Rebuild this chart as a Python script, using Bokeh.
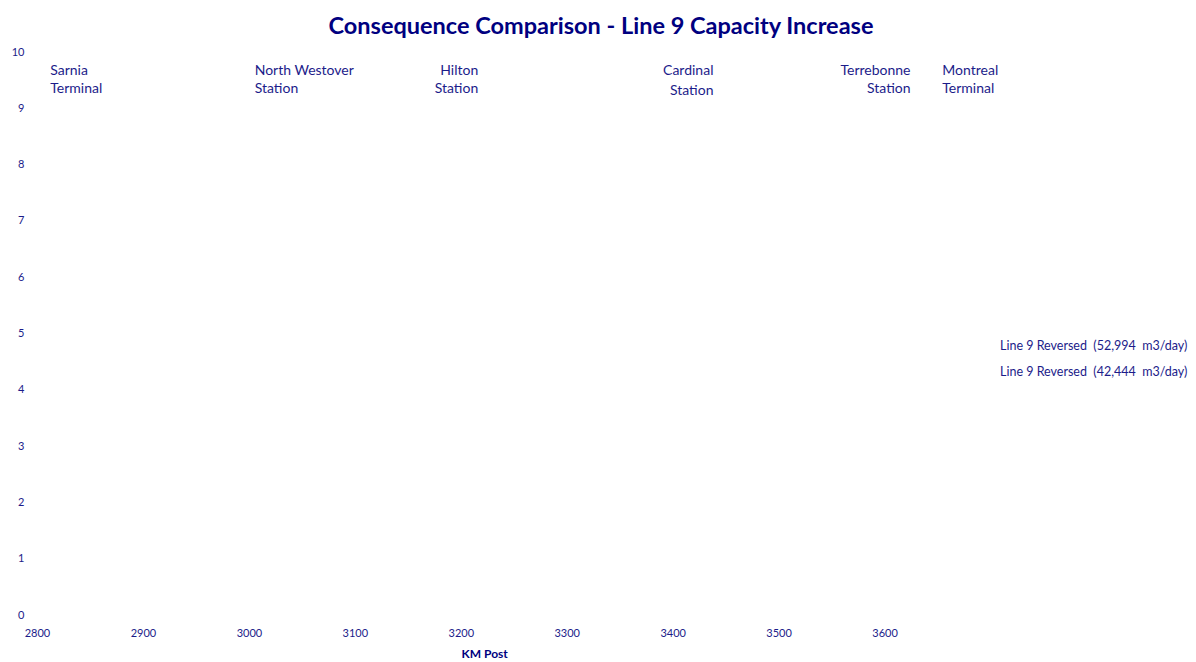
from bokeh.plotting import figure
from bokeh.models import (Label, Legend, LegendItem, FixedTicker, Range1d, Title)
from bokeh.embed import file_html
from bokeh.resources import INLINE

# ---- data ----
series_names = ["Line 9 Reversed  (52,994  m3/day)",
                "Line 9 Reversed  (42,444  m3/day)"]
series_km = [[], []]
series_values = [[], []]

station_line1 = ["Sarnia", "North Westover", "Hilton", "Cardinal", "Terrebonne", "Montreal"]
station_line2 = ["Terminal", "Station", "Station", "Station", "Station", "Terminal"]
station_km = [2812, 3005, 3216, 3438, 3624, 3654]
station_align = ["left", "left", "right", "right", "right", "left"]

x_ticks = [2800, 2900, 3000, 3100, 3200, 3300, 3400, 3500, 3600]
y_ticks = [0, 1, 2, 3, 4, 5, 6, 7, 8, 9, 10]

NAVY = "#000080"
TXT = "#1c1c8a"
FONT = "Lato"

p = figure(frame_width=962, frame_height=563, output_backend="svg", toolbar_location=None,
           x_range=Range1d(2800, 3708), y_range=Range1d(0, 10),
           min_border_left=37, min_border_right=181, min_border_top=43,
           min_border_bottom=48)
p.outline_line_color = None
p.background_fill_color = "white"
p.border_fill_color = "white"
p.grid.visible = False

p.title = Title(text="Consequence Comparison - Line 9 Capacity Increase",
                text_font=FONT, text_font_size="23.5px", text_font_style="bold",
                text_color=NAVY, align="left", offset=291, vertical_align="top",
                standoff=21)

for ax in (p.xaxis[0], p.yaxis[0]):
    ax.axis_line_color = None
    ax.major_tick_line_color = None
    ax.minor_tick_line_color = None
    ax.major_tick_out = 0
    ax.major_tick_in = 0
    ax.minor_tick_out = 0
    ax.minor_tick_in = 0
    ax.major_label_text_font = FONT
    ax.major_label_text_font_size = "11px"
    ax.major_label_text_color = TXT

p.xaxis.ticker = FixedTicker(ticks=x_ticks)
p.yaxis.ticker = FixedTicker(ticks=y_ticks)
p.xaxis.major_label_standoff = 14
p.yaxis.major_label_standoff = 13

# x-axis title, centred under the original plot area
p.add_layout(Title(text="KM Post", text_font=FONT, text_font_size="12px",
                   text_font_style="bold", text_color=NAVY, align="left",
                   offset=424, standoff=9), "below")

# series (no visible marks in the reference)
colors = ["#1f3f9f", "#9f1f1f"]
items = []
for name, xs, ys, c in zip(series_names, series_km, series_values, colors):
    r = p.line(x=xs, y=ys, line_color=c, line_width=2, line_alpha=0)
    items.append(LegendItem(label=name, renderers=[r]))

legend = Legend(items=items, location=(1, 233), glyph_width=0, glyph_height=20,
                label_standoff=0, label_height=20, spacing=6, padding=0, margin=0,
                border_line_color=None, background_fill_alpha=0,
                label_text_font=FONT, label_text_font_size="12.5px",
                label_text_color=TXT)
p.add_layout(legend, "right")

# station labels
for l1, l2, km, align in zip(station_line1, station_line2, station_km, station_align):
    off2 = -38 if l1 == "Cardinal" else -36
    for txt, off in ((l1, -18), (l2, off2)):
        p.add_layout(Label(x=km, y=10, text=txt, y_offset=off,
                           text_align=align, text_baseline="middle",
                           text_font=FONT, text_font_size="14px", text_color=TXT))

open("out.html", "w").write(file_html(p, INLINE))
